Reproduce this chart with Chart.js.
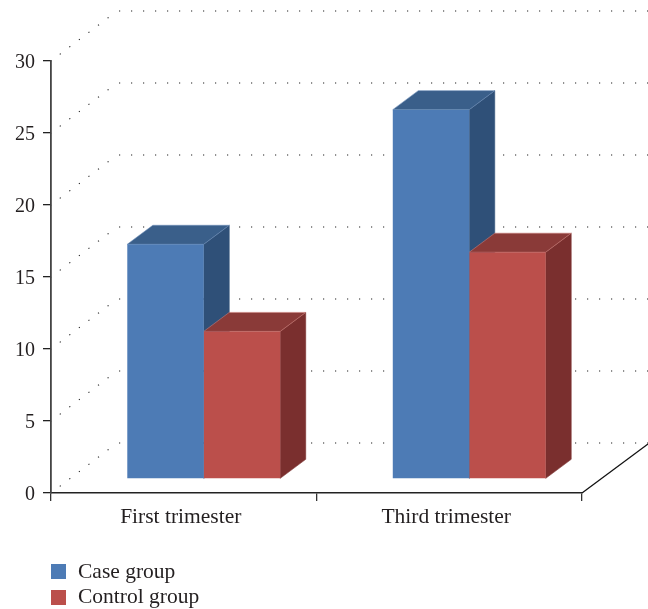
<!DOCTYPE html>
<html>
<head>
<meta charset="utf-8">
<title>Case and control groups</title>
<script src="https://cdn.jsdelivr.net/npm/chart.js@4"></script>
<style>
html, body { margin: 0; padding: 0; background: #fff; }
#wrap { width: 648px; height: 609px; }
</style>
</head>
<body>
<div id="wrap"><canvas id="miGrafica"></canvas></div>
<script>
const categorias = ['First trimester', 'Third trimester'];
const casos = [16.3, 25.65];
const controles = [10.25, 15.75];
const nombreCasos = 'Case group';
const nombreControles = 'Control group';

const fuente = '"Liberation Serif", serif';
const colorTexto = '#231f20';

// caras de cada serie: frente, lado y tapa
const coloresCasos = { frente: '#4d7bb5', lado: '#2f5078', tapa: '#3a5f8a', borde: '#6f8fb8' };
const coloresControles = { frente: '#bb4f4b', lado: '#7a2f2e', tapa: '#8a3a38', borde: '#c97a76' };

// desplazamiento de las barras sobre el piso y profundidad de la caja
const despX = 20, despY = -14;
const fondoX = 25.5, fondoY = -19;

function puntos(ctx, x1, y1, x2, y2, offset) {
    ctx.save();
    ctx.strokeStyle = '#222';
    ctx.lineWidth = 1.2;
    ctx.setLineDash([1.2, 10.8]);
    ctx.lineDashOffset = offset;
    ctx.beginPath();
    ctx.moveTo(x1, y1);
    ctx.lineTo(x2, y2);
    ctx.stroke();
    ctx.restore();
}

function cara(ctx, color, borde, lista) {
    ctx.fillStyle = color;
    ctx.strokeStyle = borde;
    ctx.lineWidth = 0.6;
    ctx.beginPath();
    lista.forEach((p, i) => i ? ctx.lineTo(p[0], p[1]) : ctx.moveTo(p[0], p[1]));
    ctx.closePath();
    ctx.fill();
    ctx.stroke();
}

const pared3D = {
    id: 'pared3D',
    beforeDatasetsDraw(chart) {
        const ctx = chart.ctx, y = chart.scales.y, area = chart.chartArea;
        // paredes punteadas y piso, detras de las barras
        y.ticks.forEach(t => {
            const py = y.getPixelForValue(t.value);
            puntos(ctx, area.left, py, area.left + 66, py - 50, 1);
            puntos(ctx, area.left + 68, py - 50, chart.width, py - 50, 0);
        });
        ctx.save();
        ctx.strokeStyle = '#111';
        ctx.lineWidth = 1.3;
        ctx.beginPath();
        ctx.moveTo(area.right, area.bottom);
        ctx.lineTo(chart.width, area.bottom - 49);
        ctx.stroke();
        ctx.restore();

        // lado y tapa de cada barra, casos primero; el frente lo dibuja Chart.js
        ctx.save();
        ctx.translate(despX, despY);
        [coloresCasos, coloresControles].forEach((colores, i) => {
            chart.getDatasetMeta(i).data.forEach(barra => {
                const p = barra.getProps(['x', 'y', 'base', 'width'], true);
                const izq = p.x - p.width / 2, der = p.x + p.width / 2;
                cara(ctx, colores.lado, colores.lado, [[der, p.y], [der + fondoX, p.y + fondoY], [der + fondoX, p.base + fondoY], [der, p.base]]);
                cara(ctx, colores.tapa, colores.borde, [[izq, p.y], [izq + fondoX, p.y + fondoY], [der + fondoX, p.y + fondoY], [der, p.y]]);
            });
        });
        ctx.restore();
    },
    beforeDatasetDraw(chart) {
        chart.ctx.save();
        chart.ctx.translate(despX, despY);
    },
    afterDatasetDraw(chart) {
        chart.ctx.restore();
    },
    // leyenda vertical abajo a la izquierda
    afterDraw(chart) {
        const ctx = chart.ctx;
        ctx.save();
        ctx.font = '21.5px ' + fuente;
        ctx.textBaseline = 'alphabetic';
        chart.data.datasets.forEach((d, i) => {
            const top = 564 + i * 26;
            ctx.fillStyle = d.backgroundColor;
            ctx.fillRect(51, top, 15, 15);
            ctx.fillStyle = colorTexto;
            ctx.fillText(d.label, 78, top + 14 - i);
        });
        ctx.restore();
    }
};

const ctx = document.getElementById('miGrafica').getContext('2d');
const miGrafica = new Chart(ctx, {
    type: 'bar',
    data: {
        labels: categorias,
        datasets: [
            { label: nombreCasos, data: casos, backgroundColor: coloresCasos.frente, clip: false },
            { label: nombreControles, data: controles, backgroundColor: coloresControles.frente, clip: false }
        ]
    },
    options: {
        responsive: true,
        maintainAspectRatio: false,
        animation: false,
        layout: { padding: { top: 61, right: 66 } },
        categoryPercentage: 0.576,
        barPercentage: 1,
        plugins: { legend: { display: false }, tooltip: { enabled: false } },
        scales: {
            x: {
                grid: { offset: true, drawOnChartArea: false, color: '#333', tickLength: 8, lineWidth: 1.3 },
                border: { color: '#222', width: 1.5 },
                ticks: { color: colorTexto, font: { family: fuente, size: 21.5 }, padding: 3, labelOffset: -3, maxRotation: 0 },
                afterFit(scale) { scale.height = 116; }
            },
            y: {
                min: 0,
                max: 30,
                grid: { drawOnChartArea: false, color: '#222', tickLength: 8, lineWidth: 1.3 },
                border: { color: '#444', width: 1.8 },
                ticks: { stepSize: 5, color: colorTexto, font: { family: fuente, size: 20 }, padding: 8, labelOffset: 2 },
                afterFit(scale) { scale.width = 51; }
            }
        }
    },
    plugins: [pared3D]
});
</script>
</body>
</html>
